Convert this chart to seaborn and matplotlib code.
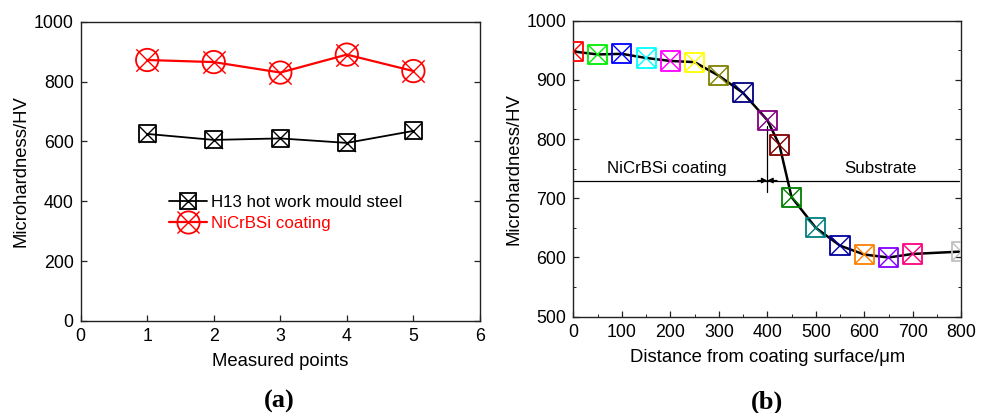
import matplotlib
matplotlib.use("Agg")
import matplotlib.pyplot as plt
import pandas as pd
import seaborn as sns
from matplotlib.legend_handler import HandlerTuple
from matplotlib.lines import Line2D
from matplotlib.ticker import MultipleLocator

# (a) hardness at measured points
points = [1, 2, 3, 4, 5]
h13_hv = [625, 605, 610, 595, 635]
coating_hv = [872, 865, 830, 890, 835]

# (b) hardness profile from coating surface
distance_um = [0, 50, 100, 150, 200, 250, 300, 350, 400, 425,
               450, 500, 550, 600, 650, 700, 800]
profile_hv = [948, 943, 944, 937, 932, 930, 907, 878, 832, 790,
              702, 650, 620, 605, 600, 606, 610]
point_colors = ["#FF0000", "#00EE00", "#0000FF", "#00FFFF", "#FF00FF",
                "#FFFF00", "#808000", "#000080", "#800080", "#800000",
                "#008000", "#008080", "#0000A0", "#FF8000", "#8000FF",
                "#FF0080", "#C0C0C0"]
boundary_um = 400
boundary_hv = 730

sns.set_theme(style="ticks")
plt.rcParams["font.family"] = ["Liberation Sans", "DejaVu Sans"]
for k in ("text.color", "axes.labelcolor", "xtick.color", "ytick.color"):
    plt.rcParams[k] = "black"

fig = plt.figure(figsize=(9.92, 4.13), dpi=100)
ax1 = fig.add_axes([0.0813, 0.2228, 0.4025, 0.7247])
ax2 = fig.add_axes([0.578, 0.2332, 0.391, 0.7167])

df_a = pd.DataFrame({"x": points, "h13": h13_hv, "coat": coating_hv})

# panel (a)
sns.lineplot(data=df_a, x="x", y="h13", color="black", lw=1.3, ax=ax1)
sns.lineplot(data=df_a, x="x", y="coat", color="red", lw=1.6, ax=ax1)
ax1.scatter(df_a.x, df_a.h13, marker="s", s=150, facecolor="none",
            edgecolor="black", lw=1.3, zorder=3)
ax1.scatter(df_a.x, df_a.h13, marker="x", s=150, color="black", lw=1.0, zorder=3)
ax1.scatter(df_a.x, df_a.coat, marker="o", s=260, facecolor="none",
            edgecolor="red", lw=1.3, zorder=3)
ax1.scatter(df_a.x, df_a.coat, marker="x", s=260, color="red", lw=1.0, zorder=3)

ax1.set_xlim(0, 6)
ax1.set_ylim(0, 1000)
ax1.xaxis.set_major_locator(MultipleLocator(1))
ax1.yaxis.set_major_locator(MultipleLocator(200))
ax1.set_xlabel("Measured points", fontsize=13.3)
ax1.set_ylabel("Microhardness/HV", fontsize=13.3)

h_black = (Line2D([], [], color="black", lw=1.3),
           Line2D([], [], marker="s", ms=12, mfc="none", mec="black", mew=1.3, ls=""),
           Line2D([], [], marker="x", ms=12, color="black", mew=1.0, ls=""))
h_red = (Line2D([], [], color="red", lw=1.6),
         Line2D([], [], marker="o", ms=16, mfc="none", mec="red", mew=1.3, ls=""),
         Line2D([], [], marker="x", ms=16, color="red", mew=1.0, ls=""))
leg = ax1.legend([h_black, h_red], ["H13 hot work mould steel", "NiCrBSi coating"],
                 handler_map={tuple: HandlerTuple(ndivide=1, pad=0)},
                 frameon=False, fontsize=12.2, loc="upper left",
                 bbox_to_anchor=(0.205, 0.445), handlelength=2.2,
                 handletextpad=0.25, labelspacing=0.35, borderaxespad=0)
leg.get_texts()[1].set_color("red")

# panel (b)
df_b = pd.DataFrame({"d": distance_um, "hv": profile_hv, "c": point_colors})
sns.lineplot(data=df_b, x="d", y="hv", color="black", lw=1.8, ax=ax2, zorder=2)
sns.scatterplot(data=df_b, x="d", y="hv", hue="c", palette=point_colors,
                marker="s", s=190, lw=1.3, legend=False, ax=ax2, zorder=3)
sq = ax2.collections[-1]
sq.set_edgecolor(sq.get_facecolor())
sq.set_facecolor("none")
sns.scatterplot(data=df_b, x="d", y="hv", hue="c", palette=point_colors,
                marker="x", s=190, lw=1.0, legend=False, ax=ax2, zorder=3)

ax2.plot([0, 795], [boundary_hv, boundary_hv], color="black", lw=0.9)
ax2.plot([boundary_um, boundary_um], [711, 822], color="black", lw=0.9)
ax2.annotate("", xy=(boundary_um, boundary_hv), xytext=(boundary_um - 20, boundary_hv),
             arrowprops=dict(arrowstyle="-|>", color="black", lw=0.9,
                             mutation_scale=8, shrinkA=0, shrinkB=0))
ax2.annotate("", xy=(boundary_um, boundary_hv), xytext=(boundary_um + 20, boundary_hv),
             arrowprops=dict(arrowstyle="-|>", color="black", lw=0.9,
                             mutation_scale=8, shrinkA=0, shrinkB=0))
ax2.text(193, 737, "NiCrBSi coating", ha="center", va="bottom", fontsize=12.2)
ax2.text(634, 737, "Substrate", ha="center", va="bottom", fontsize=12.2)

ax2.set_xlim(0, 800)
ax2.set_ylim(500, 1000)
ax2.xaxis.set_major_locator(MultipleLocator(100))
ax2.xaxis.set_minor_locator(MultipleLocator(50))
ax2.yaxis.set_major_locator(MultipleLocator(100))
ax2.yaxis.set_minor_locator(MultipleLocator(50))
ax2.set_xlabel("Distance from coating surface/\u03bcm", fontsize=13.3)
ax2.set_ylabel("Microhardness/HV", fontsize=13.3)

for ax in (ax1, ax2):
    for s in ax.spines.values():
        s.set_visible(True)
        s.set_linewidth(1.0)
        s.set_color("#222222")
    ax.tick_params(which="major", direction="in", length=4, width=0.9,
                   labelsize=12.8, right=True, pad=5, color="#222222")
    ax.tick_params(which="minor", direction="in", length=2, width=0.7,
                   right=True, color="#222222")
    ax.xaxis.labelpad = 6
    ax.yaxis.labelpad = 3

fig.text(0.281, 0.027, "(a)", ha="center", va="center", fontsize=19,
         fontweight="bold", family="Liberation Serif")
fig.text(0.773, 0.027, "(b)", ha="center", va="center", fontsize=19,
         fontweight="bold", family="Liberation Serif")

fig.savefig("out.png", dpi=100)
